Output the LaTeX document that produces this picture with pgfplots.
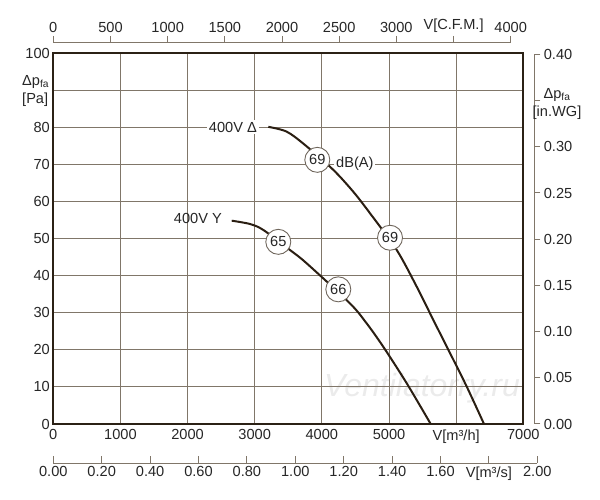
\documentclass[border=0pt]{standalone}
\usepackage{pgfplots}
\pgfplotsset{compat=1.18}
\usepackage{fontspec}
\setmainfont{Liberation Sans}
\definecolor{framec}{HTML}{2B2115}
\definecolor{gridc}{HTML}{807669}
\definecolor{textc}{HTML}{262626}
\definecolor{curvec}{HTML}{2A1E12}
\definecolor{circc}{HTML}{6F665C}
\newcommand{\lbl}{\fontsize{14.6bp}{18bp}\selectfont}
\begin{document}
\begin{tikzpicture}
\path[use as bounding box] (0,0) rectangle (600bp,500bp);
% watermark
\node[text=black!8, font=\fontsize{32bp}{32bp}\selectfont\itshape] at (422bp,112bp) {Ventilatorry.ru};
% main axis
\begin{axis}[
  at={(53.3bp,76bp)}, anchor=south west, scale only axis,
  width=470bp, height=371bp,
  xmin=0, xmax=7000, ymin=0, ymax=100,
  xtick={0,1000,2000,3000,4000,5000,6000,7000},
  xticklabels={0,1000,2000,3000,4000,5000,V[m³/h],7000},
  ytick={0,10,20,30,40,50,60,70,80,90,100},
  yticklabels={0,10,20,30,40,50,60,70,80,,100},
  grid=major, major grid style={gridc, line width=0.9bp},
  axis line style={framec, line width=2.2bp},
  major tick length=0pt,
  tick label style={font=\lbl, text=textc},
  xticklabel style={yshift=-2bp},
]
\node[anchor=east, fill=white, inner sep=2bp, font=\lbl, text=textc] at (axis cs:3064,80) {400V Δ};
\node[anchor=west, fill=white, inner sep=2bp, font=\lbl, text=textc] at (axis cs:4180,70.1) {dB(A)};
\node[anchor=east, inner sep=0bp, font=\lbl, text=textc] at (axis cs:2513,55.4) {400V Y};
\addplot[curvec, line width=2bp, smooth, tension=0.5] coordinates {
(3202,80.1)(3476,78.8)(3749,75.2)(4170,68.5)(4468,62.6)(4717,56.8)(5115,46.9)(5413,37.0)(5661,28.0)(5909,19.1)(6157,10.1)(6415,0)};
\addplot[curvec, line width=2bp, smooth, tension=0.5] coordinates {
(2657,54.8)(2930,53.9)(3128,52.3)(3525,46.9)(3774,43.3)(4419,32.5)(4668,27.1)(4915,20.8)(5263,11.0)(5621,0)};
\addplot[draw=none, mark=none, nodes near coords, point meta=explicit symbolic,
  nodes near coords style={circle, draw=circc, line width=0.9bp, fill=white, inner sep=0pt, minimum size=25bp, anchor=center, font=\lbl, text=textc}]
  table[meta=lab] {
x y lab
3932 71.2 69
5015 50.2 69
3351 49.1 65
4245 36.3 66
};
\end{axis}
% top CFM axis
\begin{axis}[
  at={(53.3bp,457bp)}, anchor=north west, scale only axis,
  width=457.4bp, height=10bp,
  xmin=0, xmax=4000, ymin=0, ymax=1,
  axis x line=top, axis y line=none,
  axis line style={gridc, line width=1bp, -},
  xtick={0,500,1000,1500,2000,2500,3000,3500,4000},
  xticklabels={0,500,1000,1500,2000,2500,3000,V[C.F.M.],4000},
  tick align=outside, major tick length=7bp,
  tick style={gridc, line width=1bp},
  tick label style={font=\lbl, text=textc},
]
\end{axis}
% bottom m3/s axis
\begin{axis}[
  at={(53.3bp,37bp)}, anchor=south west, scale only axis,
  width=484bp, height=10bp,
  xmin=0, xmax=2, ymin=0, ymax=1,
  axis x line=bottom, axis y line=none,
  axis line style={gridc, line width=1bp, -},
  xtick={0,0.2,0.4,0.6,0.8,1,1.2,1.4,1.6,1.8,2},
  xticklabels={0.00,0.20,0.40,0.60,0.80,1.00,1.20,1.40,1.60,V[m³/s],2.00},
  tick align=inside, major tick length=7bp,
  tick style={gridc, line width=1bp},
  tick label style={font=\lbl, text=textc},
]
\end{axis}
% right in.WG axis
\begin{axis}[
  at={(534.3bp,76bp)}, anchor=south east, scale only axis,
  width=10bp, height=369.6bp,
  xmin=0, xmax=1, ymin=0, ymax=0.4,
  axis y line=right, axis x line=none,
  axis line style={gridc, line width=1bp, -},
  ytick={0,0.05,0.1,0.15,0.2,0.25,0.3,0.35,0.4},
  yticklabels={0.00,0.05,0.10,0.15,0.20,0.25,0.30,,0.40},
  tick align=outside, major tick length=6bp,
  tick style={gridc, line width=1bp},
  tick label style={font=\lbl, text=textc},
]
\end{axis}
\node[anchor=west, align=left, font=\lbl, text=textc, inner sep=0pt] at (22bp,409bp) {Δp\textsubscript{fa}\\{}[Pa]};
\node[align=center, font=\lbl, text=textc, inner sep=0pt] at (557bp,396bp) {Δp\textsubscript{fa}\\{}[in.WG]};
\end{tikzpicture}
\end{document}
